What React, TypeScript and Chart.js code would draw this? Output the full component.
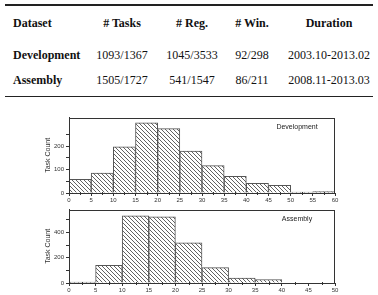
import React, { useEffect, useRef } from "react";
import { Chart, registerables } from "chart.js";
Chart.register(...registerables);

const tableHeaders = ["Dataset", "# Tasks", "# Reg.", "# Win.", "Duration"];
const datasetNames = ["Development", "Assembly"];
const taskValues = ["1093/1367", "1505/1727"];
const regValues = ["1045/3533", "541/1547"];
const winValues = ["92/298", "86/211"];
const durationValues = ["2003.10-2013.02", "2008.11-2013.03"];

const devBinStarts = [0, 5, 10, 15, 20, 25, 30, 35, 40, 45, 50, 55];
const devCounts = [58, 85, 197, 300, 275, 179, 117, 71, 41, 33, 4, 6];
const asmBinStarts = [0, 5, 10, 15, 20, 25, 30, 35, 40, 45];
const asmCounts = [7, 140, 530, 522, 318, 121, 38, 28, 0, 0];
const binWidth = 5;

const FONT = "'Liberation Serif', 'Times New Roman', serif";
const SANS = "'Liberation Sans', Arial, sans-serif";

function makeHatch(): CanvasPattern | string {
  const c = document.createElement("canvas");
  c.width = 4;
  c.height = 4;
  const g = c.getContext("2d");
  if (!g) return "#ccc";
  g.fillStyle = "#fff";
  g.fillRect(0, 0, 4, 4);
  g.strokeStyle = "#3a3a3a";
  g.lineWidth = 0.8;
  g.beginPath();
  g.moveTo(-1, -1);
  g.lineTo(5, 5);
  g.moveTo(3, -1);
  g.lineTo(5, 1);
  g.moveTo(-1, 3);
  g.lineTo(1, 5);
  g.stroke();
  const p = g.createPattern(c, "repeat");
  return p || "#ccc";
}

type HistProps = {
  starts: number[];
  counts: number[];
  xMax: number;
  yMax: number;
  yMinorStep: number;
  yLabelStep: number;
  label: string;
  top: number;
  height: number;
};

function Histogram({ starts, counts, xMax, yMax, yMinorStep, yLabelStep, label, top, height }: HistProps) {
  const ref = useRef<HTMLCanvasElement | null>(null);
  useEffect(() => {
    if (!ref.current) return;
    const framePlugin = {
      id: "frame",
      afterDraw(chart: any) {
        const { ctx, chartArea } = chart;
        const xs = chart.scales.x;
        ctx.save();
        ctx.strokeStyle = "#333";
        ctx.lineWidth = 1;
        ctx.strokeRect(
          Math.round(chartArea.left) + 0.5,
          Math.round(chartArea.top) + 0.5,
          Math.round(chartArea.right - chartArea.left) - 1,
          Math.round(chartArea.bottom - chartArea.top)
        );
        // minor x ticks
        ctx.beginPath();
        for (let v = binWidth / 2; v < xMax; v += binWidth) {
          const px = Math.round(xs.getPixelForValue(v)) + 0.5;
          ctx.moveTo(px, chartArea.bottom - 1);
          ctx.lineTo(px, chartArea.bottom + 2);
        }
        ctx.stroke();
        ctx.fillStyle = "#222";
        ctx.font = "7px " + SANS;
        ctx.textAlign = "center";
        ctx.textBaseline = "middle";
        ctx.fillText(label, 257, chartArea.top + 9);
        ctx.restore();
      },
    };
    const chart = new Chart(ref.current, {
      type: "bar",
      data: {
        datasets: [
          {
            data: starts.map((s, i) => ({ x: s + binWidth / 2, y: counts[i] })),
            backgroundColor: makeHatch() as any,
            borderColor: "#555",
            borderWidth: 1,
            barPercentage: 1,
            categoryPercentage: 1,
          },
        ],
      },
      options: {
        responsive: false,
        animation: false,
        devicePixelRatio: 1,
        layout: { padding: { top: 3, right: 5, left: 0, bottom: 0 } },
        plugins: { legend: { display: false }, tooltip: { enabled: false }, title: { display: false } },
        scales: {
          x: {
            type: "linear",
            offset: false,
            min: 0,
            max: xMax,
            grid: { offset: false, drawOnChartArea: false, drawTicks: true, tickLength: 3, tickColor: "#333" },
            border: { color: "#333" },
            ticks: {
              stepSize: binWidth,
              autoSkip: false,
              maxRotation: 0,
              padding: 1,
              color: "#333",
              font: { family: SANS, size: 6 },
            },
            afterFit: (scale: any) => {
              scale.height = 10;
            },
          },
          y: {
            min: 0,
            max: yMax,
            grid: { drawOnChartArea: false, drawTicks: true, tickLength: 3, tickColor: "#333" },
            border: { color: "#333" },
            title: { display: true, text: "Task Count", color: "#333", font: { family: SANS, size: 7 }, padding: 4 },
            ticks: {
              stepSize: yMinorStep,
              autoSkip: false,
              padding: 2,
              color: "#333",
              font: { family: SANS, size: 6 },
              callback: (v: any) => (Number(v) % yLabelStep === 0 ? String(v) : ""),
            },
            afterBuildTicks: (scale: any) => {
              scale.ticks = scale.ticks.filter((t: any) => t.value % yMinorStep === 0);
            },
            afterFit: (scale: any) => {
              scale.width = 29;
            },
          },
        },
      },
      plugins: [framePlugin],
    } as any);
    return () => chart.destroy();
  }, []);
  return (
    <canvas
      ref={ref}
      width={300}
      height={height}
      style={{ position: "absolute", left: 40, top, width: 300, height }}
    />
  );
}

const colCenters = [0, 122, 192, 252, 329];

function Cell({ text, x, y, bold, left }: { text: string; x: number; y: number; bold?: boolean; left?: boolean }) {
  return (
    <div
      style={{
        position: "absolute",
        left: left ? x : x - 100,
        width: left ? undefined : 200,
        top: y - 8,
        height: 16,
        lineHeight: "16px",
        textAlign: left ? "left" : "center",
        fontFamily: FONT,
        fontSize: 12,
        fontWeight: bold ? "bold" : "normal",
        color: "#111",
        whiteSpace: "nowrap",
      }}
    >
      {text}
    </div>
  );
}

export default function App() {
  const rows = datasetNames.map((n, i) => [n, taskValues[i], regValues[i], winValues[i], durationValues[i]]);
  const rowY = [55, 80];
  return (
    <div style={{ position: "fixed", left: 0, top: 0, width: 378, height: 295, background: "#fff", overflow: "hidden" }}>
      <div style={{ position: "absolute", left: 5, width: 368, top: 4, height: 1.5, background: "#222" }} />
      <div style={{ position: "absolute", left: 5, width: 368, top: 95.5, height: 1.5, background: "#222" }} />
      {tableHeaders.map((h, j) => (
        <Cell key={"h" + j} text={h} x={j === 0 ? 13 : colCenters[j]} y={23} bold left={j === 0} />
      ))}
      {rows.map((r, i) =>
        r.map((t, j) => (
          <Cell key={i + "-" + j} text={t} x={j === 0 ? 13 : colCenters[j]} y={rowY[i]} bold={j === 0} left={j === 0} />
        ))
      )}
      <Histogram starts={devBinStarts} counts={devCounts} xMax={60} yMax={322} yMinorStep={50} yLabelStep={100} label="Development" top={112} height={91} />
      <Histogram starts={asmBinStarts} counts={asmCounts} xMax={50} yMax={580} yMinorStep={100} yLabelStep={200} label="Assembly" top={204} height={89} />
    </div>
  );
}
